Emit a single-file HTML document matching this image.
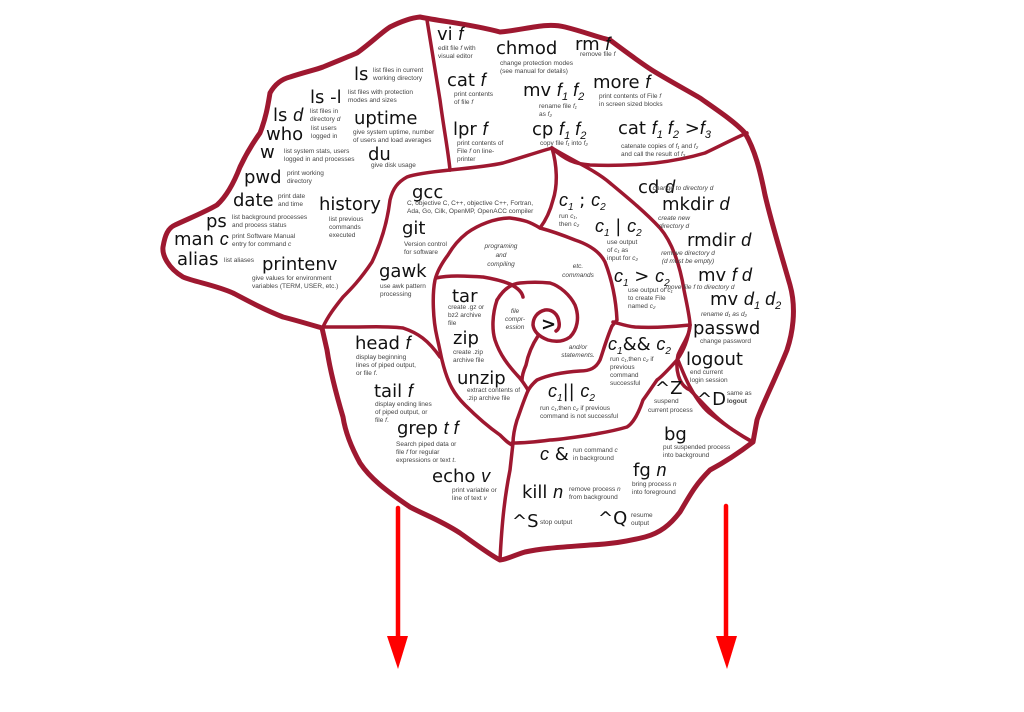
<!DOCTYPE html>
<html><head><meta charset="utf-8"><style>
html,body{margin:0;padding:0;background:#fff;width:1024px;height:712px;overflow:hidden}
svg{display:block}
.c{font-family:"DejaVu Sans","Liberation Sans",sans-serif;fill:#111;font-size:18px}
.c tspan.i{font-style:italic;font-family:"Liberation Sans",sans-serif}
.d{font-family:"Liberation Sans",sans-serif;fill:#444;font-size:6.5px}
.m{font-family:"Liberation Sans",sans-serif;fill:#444;font-size:6.5px;font-style:italic;text-anchor:middle}
.l{fill:none;stroke:#9e1830;stroke-width:3.5;stroke-linejoin:round;stroke-linecap:round}
.o{stroke-width:5}
</style></head><body>
<svg width="1024" height="712" viewBox="0 0 1024 712" xmlns="http://www.w3.org/2000/svg">
<path class="l o" d="M420,17 C445,22 470,24 500,32 C525,30 545,22 565,27 C585,32 600,38 610,40 C630,55 645,66 655,72 C675,84 690,92 700,98 C720,112 735,122 745,133 C755,150 760,170 765,195 C772,225 780,250 790,285 C797,310 792,335 787,350 C775,380 762,405 757,420 L753,442 C740,452 725,462 710,470 C695,485 690,495 680,512 C670,525 660,533 645,537 C625,542 610,544 590,545 C565,547 543,548 525,552 C512,556 505,560 500,560 C490,555 470,540 460,533 C440,520 425,515 410,507 C385,490 370,478 360,463 C350,445 345,430 343,417 C335,390 330,370 327,350 L322,328 C305,323 295,320 283,317 C265,310 250,302 233,293 C215,285 195,282 183,277 C168,268 162,255 163,247 C165,235 168,228 175,225 C190,218 205,212 217,205 C228,195 235,180 240,167 C248,150 255,140 260,133 C266,118 268,105 270,93 C275,84 282,79 290,77 C305,72 315,70 323,67 C340,60 350,56 357,53 C372,42 382,32 390,27 C400,22 410,18 420,17 Z"/>
<path class="l" d="M427,20 C432,50 436,75 440,100 C444,130 448,150 450,170"/>
<path class="l" d="M450,170 C470,168 490,166 503,163 C520,158 538,152 552,148"/>
<path class="l" d="M552,148 C565,160 575,164 590,165 C615,166 635,165 655,163 C680,160 695,156 705,153 C720,146 735,138 747,133"/>
<path class="l" d="M450,170 C430,172 415,174 407,177 C398,182 393,188 390,200 C387,225 380,245 372,262 C360,280 350,290 343,297 C335,307 328,316 323,327"/>
<path class="l" d="M323,327 C335,327 345,327 353,327 C370,327 390,326 403,328 C418,333 428,340 440,357"/>
<path class="l" d="M552,148 C557,165 558,185 553,200 C550,212 546,220 540,228 C530,222 525,220 510,218 C495,218 478,225 467,233 C458,240 452,248 448,255 C442,263 437,272 435,280 C432,295 433,320 437,337 C440,350 441,356 442,360 C448,385 455,395 465,405 C478,418 490,428 500,435 C505,440 508,443 512,445"/>
<path class="l" d="M540,228 C555,232 565,236 575,240 C590,245 600,252 605,262 C612,280 616,300 617,320 L612,326 C606,340 602,355 600,360 C596,368 590,371 580,371 C565,372 548,375 537,380 C530,386 528,390 527,393 C522,405 518,418 517,420 C514,430 513,436 513,443 L510,470 C505,495 502,520 500,560"/>
<path class="l" d="M552,148 C575,162 595,170 610,183 C628,198 645,212 660,228 C672,242 680,265 684,290 C687,305 690,318 690,325 C690,335 682,345 678,355 C675,368 678,385 690,390 C705,405 715,418 733,430 C742,436 748,440 753,442"/>
<path class="l" d="M690,325 C670,327 650,328 635,327 C625,326 618,323 613,322"/>
<path class="l" d="M690,325 C688,340 684,350 677,360 C668,370 660,378 657,380 C650,390 646,396 643,400 C638,415 632,424 627,427 C610,432 600,433 590,435 C570,438 555,440 550,440 C535,442 520,443 512,443"/>
<path class="l" d="M436,278 C450,275 465,276 483,277 C495,279 505,282 510,284 C518,288 522,292 523,297"/>
<path class="l" d="M497,300 C503,290 510,284 520,283 C530,282 540,282 550,283 C560,286 570,295 575,305 C580,318 577,330 570,337 C563,342 555,342 548,340 C540,337 534,332 533,325 C533,318 537,312 545,310 C552,309 558,314 559,322 C560,327 558,330 556,331"/>
<path class="l" d="M497,300 C492,315 492,330 495,340 C500,355 508,365 517,375 C522,380 525,385 528,390"/>
<path class="l" d="M538,336 C532,345 528,355 526,365 C523,372 522,376 522,380"/>
<path class="l" d="M678,360 C682,370 686,380 690,387 C697,400 705,410 712,415 C725,425 740,435 753,442"/>
<line x1="398" y1="508" x2="398" y2="640" stroke="#f00" stroke-width="4.5" stroke-linecap="round"/>
<polygon points="387,636 408,636 398,669" fill="#f00"/>
<line x1="726" y1="506" x2="726" y2="640" stroke="#f00" stroke-width="4.5" stroke-linecap="round"/>
<polygon points="716,636 737,636 727,669" fill="#f00"/>

<text class="c" x="354" y="80" font-size="22">ls</text>
<text class="d" x="373" y="72">list files in current</text><text class="d" x="373" y="80">working directory</text>
<text class="c" x="310" y="103" font-size="22">ls -l</text>
<text class="d" x="348" y="94">list files with protection</text><text class="d" x="348" y="102">modes and sizes</text>
<text class="c" x="273" y="121" font-size="20">ls <tspan class="i">d</tspan></text>
<text class="d" x="310" y="113">list files in</text><text class="d" x="310" y="121">directory <tspan font-style="italic">d</tspan></text>
<text class="c" x="354" y="124" font-size="22">uptime</text>
<text class="d" x="353" y="134">give system uptime, number</text><text class="d" x="353" y="142">of users and load averages</text>
<text class="c" x="266" y="140" font-size="20">who</text>
<text class="d" x="311" y="130">list users</text><text class="d" x="311" y="138">logged in</text>
<text class="c" x="260" y="158" font-size="20">w</text>
<text class="d" x="284" y="153">list system stats, users</text><text class="d" x="284" y="161">logged in and processes</text>
<text class="c" x="368" y="160" font-size="20">du</text>
<text class="d" x="371" y="167">give disk usage</text>
<text class="c" x="244" y="183" font-size="21">pwd</text>
<text class="d" x="287" y="175">print working</text><text class="d" x="287" y="183">directory</text>
<text class="c" x="233" y="206" font-size="21">date</text>
<text class="d" x="278" y="198">print date</text><text class="d" x="278" y="206">and time</text>
<text class="c" x="319" y="210" font-size="21">history</text>
<text class="d" x="329" y="221">list previous</text><text class="d" x="329" y="229">commands</text><text class="d" x="329" y="237">executed</text>
<text class="c" x="206" y="227" font-size="20">ps</text>
<text class="d" x="232" y="219">list background processes</text><text class="d" x="232" y="227">and process status</text>
<text class="c" x="174" y="245" font-size="20">man <tspan class="i">c</tspan></text>
<text class="d" x="232" y="238">print Software Manual</text><text class="d" x="232" y="246">entry for command <tspan font-style="italic">c</tspan></text>
<text class="c" x="177" y="265" font-size="20">alias</text>
<text class="d" x="224" y="262">list aliases</text>
<text class="c" x="262" y="270" font-size="20">printenv</text>
<text class="d" x="252" y="280">give values for environment</text><text class="d" x="252" y="288">variables (TERM, USER, etc.)</text>

<text class="c" x="412" y="198" font-size="20">gcc</text>
<text class="d" x="407" y="205">C, objective C, C++, objective C++, Fortran,</text><text class="d" x="407" y="213">Ada, Go, Cilk, OpenMP, OpenACC compiler</text>
<text class="c" x="402" y="234" font-size="20">git</text>
<text class="d" x="404" y="246">Version control</text><text class="d" x="404" y="254">for software</text>
<text class="c" x="379" y="277" font-size="20">gawk</text>
<text class="d" x="380" y="288">use awk pattern</text><text class="d" x="380" y="296">processing</text>

<text class="c" x="437" y="40" font-size="20">vi <tspan class="i">f</tspan></text>
<text class="d" x="438" y="50">edit file <tspan font-style="italic">f</tspan> with</text><text class="d" x="438" y="58">visual editor</text>
<text class="c" x="496" y="54" font-size="20">chmod</text>
<text class="d" x="500" y="65">change protection modes</text><text class="d" x="500" y="73">(see manual for details)</text>
<text class="c" x="575" y="50" font-size="20">rm <tspan class="i">f</tspan></text>
<text class="d" x="580" y="56">remove file <tspan font-style="italic">f</tspan></text>
<text class="c" x="447" y="86" font-size="20">cat <tspan class="i">f</tspan></text>
<text class="d" x="454" y="96">print contents</text><text class="d" x="454" y="104">of file <tspan font-style="italic">f</tspan></text>
<text class="c" x="523" y="96" font-size="20">mv <tspan class="i">f<tspan font-size="11" dy="4">1</tspan><tspan dy="-4"> f</tspan><tspan font-size="11" dy="4">2</tspan></tspan></text>
<text class="d" x="539" y="108">rename file <tspan font-style="italic">f₁</tspan></text><text class="d" x="539" y="116">as <tspan font-style="italic">f₂</tspan></text>
<text class="c" x="593" y="88" font-size="20">more <tspan class="i">f</tspan></text>
<text class="d" x="599" y="98">print contents of File <tspan font-style="italic">f</tspan></text><text class="d" x="599" y="106">in screen sized blocks</text>
<text class="c" x="453" y="135" font-size="20">lpr <tspan class="i">f</tspan></text>
<text class="d" x="457" y="145">print contents of</text><text class="d" x="457" y="153">File <tspan font-style="italic">f</tspan> on line-</text><text class="d" x="457" y="161">printer</text>
<text class="c" x="532" y="135" font-size="20">cp <tspan class="i">f<tspan font-size="11" dy="4">1</tspan><tspan dy="-4"> f</tspan><tspan font-size="11" dy="4">2</tspan></tspan></text>
<text class="d" x="540" y="145">copy file <tspan font-style="italic">f₁</tspan> into <tspan font-style="italic">f₂</tspan></text>
<text class="c" x="618" y="134" font-size="20">cat <tspan class="i">f<tspan font-size="11" dy="4">1</tspan><tspan dy="-4"> f</tspan><tspan font-size="11" dy="4">2</tspan></tspan><tspan dy="-4"> &gt;</tspan><tspan class="i">f<tspan font-size="11" dy="4">3</tspan></tspan></text>
<text class="d" x="621" y="148">catenate copies of <tspan font-style="italic">f₁</tspan> and <tspan font-style="italic">f₂</tspan></text><text class="d" x="621" y="156">and call the result of <tspan font-style="italic">f₃</tspan></text>

<text class="c" x="559" y="206" font-size="19"><tspan class="i">c<tspan font-size="10" dy="4">1</tspan></tspan><tspan dy="-4"> ; </tspan><tspan class="i">c<tspan font-size="10" dy="4">2</tspan></tspan></text>
<text class="d" x="559" y="218">run <tspan font-style="italic">c₁</tspan>,</text><text class="d" x="559" y="226">then <tspan font-style="italic">c₂</tspan></text>
<text class="c" x="595" y="232" font-size="19"><tspan class="i">c<tspan font-size="10" dy="4">1</tspan></tspan><tspan dy="-4"> | </tspan><tspan class="i">c<tspan font-size="10" dy="4">2</tspan></tspan></text>
<text class="d" x="607" y="244">use output</text><text class="d" x="607" y="252">of <tspan font-style="italic">c₁</tspan> as</text><text class="d" x="607" y="260">input for <tspan font-style="italic">c₂</tspan></text>
<text class="c" x="614" y="282" font-size="19"><tspan class="i">c<tspan font-size="10" dy="4">1</tspan></tspan><tspan dy="-4"> &gt; </tspan><tspan class="i">c<tspan font-size="10" dy="4">2</tspan></tspan></text>
<text class="d" x="628" y="292">use output of <tspan font-style="italic">c₁</tspan></text><text class="d" x="628" y="300">to create File</text><text class="d" x="628" y="308">named <tspan font-style="italic">c₂</tspan></text>
<text class="m" x="501" y="248">programing</text><text class="m" x="501" y="257">and</text><text class="m" x="501" y="266">compiling</text>
<text class="m" x="578" y="268">etc.</text><text class="m" x="578" y="277">commands</text>

<text class="c" x="638" y="193" font-size="19">cd <tspan class="i">d</tspan></text>
<text class="m" x="683" y="190" text-anchor="start">change to directory d</text>
<text class="c" x="662" y="210" font-size="19">mkdir <tspan class="i">d</tspan></text>
<text class="m" x="674" y="220" text-anchor="start">create new</text><text class="m" x="674" y="228" text-anchor="start">directory d</text>
<text class="c" x="687" y="246" font-size="19">rmdir <tspan class="i">d</tspan></text>
<text class="m" x="688" y="255" text-anchor="start">remove directory d</text><text class="m" x="688" y="263" text-anchor="start">(d must be empty)</text>
<text class="c" x="698" y="281" font-size="19">mv <tspan class="i">f d</tspan></text>
<text class="m" x="700" y="289" text-anchor="start">move file f to directory d</text>
<text class="c" x="710" y="305" font-size="19">mv <tspan class="i">d<tspan font-size="11" dy="4">1</tspan><tspan dy="-4"> d</tspan><tspan font-size="11" dy="4">2</tspan></tspan></text>
<text class="m" x="724" y="316" text-anchor="start">rename d₁ as d₂</text>
<text class="c" x="693" y="334" font-size="21">passwd</text>
<text class="d" x="700" y="343">change password</text>
<text class="c" x="686" y="365" font-size="21">logout</text>
<text class="d" x="690" y="374">end current</text><text class="d" x="690" y="382">login session</text>
<text class="c" x="697" y="405" font-size="20">^D</text>
<text class="d" x="727" y="395">same as</text><text class="d" x="727" y="403" font-weight="bold">logout</text>

<text class="m" x="515" y="313">file</text><text class="m" x="515" y="321">compr-</text><text class="m" x="515" y="329">ession</text>
<text class="c" x="541" y="330" font-size="16" font-weight="bold">&gt;</text>
<text class="m" x="578" y="349">and/or</text><text class="m" x="578" y="357">statements.</text>
<text class="c" x="452" y="302" font-size="20">tar</text>
<text class="d" x="448" y="309">create .gz or</text><text class="d" x="448" y="317">bz2 archive</text><text class="d" x="448" y="325">file</text>
<text class="c" x="453" y="344" font-size="20">zip</text>
<text class="d" x="453" y="354">create .zip</text><text class="d" x="453" y="362">archive file</text>
<text class="c" x="457" y="384" font-size="20">unzip</text>
<text class="d" x="467" y="392">extract contents of</text><text class="d" x="467" y="400">.zip archive file</text>
<text class="c" x="608" y="350" font-size="19"><tspan class="i">c<tspan font-size="10" dy="4">1</tspan></tspan><tspan dy="-4">&amp;&amp; </tspan><tspan class="i">c<tspan font-size="10" dy="4">2</tspan></tspan></text>
<text class="d" x="610" y="361">run <tspan font-style="italic">c₁</tspan>,then <tspan font-style="italic">c₂</tspan> if</text><text class="d" x="610" y="369">previous</text><text class="d" x="610" y="377">command</text><text class="d" x="610" y="385">successful</text>
<text class="c" x="548" y="397" font-size="19"><tspan class="i">c<tspan font-size="10" dy="4">1</tspan></tspan><tspan dy="-4">|| </tspan><tspan class="i">c<tspan font-size="10" dy="4">2</tspan></tspan></text>
<text class="d" x="540" y="410">run <tspan font-style="italic">c₁</tspan>,then <tspan font-style="italic">c₂</tspan> if previous</text><text class="d" x="540" y="418">command is not successful</text>
<text class="c" x="655" y="394" font-size="20">^Z</text>
<text class="d" x="654" y="403">suspend</text><text class="d" x="648" y="412">current process</text>

<text class="c" x="355" y="349" font-size="20">head <tspan class="i">f</tspan></text>
<text class="d" x="356" y="359">display beginning</text><text class="d" x="356" y="367">lines of piped output,</text><text class="d" x="356" y="375">or file <tspan font-style="italic">f</tspan>.</text>
<text class="c" x="374" y="397" font-size="20">tail <tspan class="i">f</tspan></text>
<text class="d" x="375" y="406">display ending lines</text><text class="d" x="375" y="414">of piped output, or</text><text class="d" x="375" y="422">file <tspan font-style="italic">f</tspan>.</text>
<text class="c" x="397" y="434" font-size="20">grep <tspan class="i">t f</tspan></text>
<text class="d" x="396" y="446">Search piped data or</text><text class="d" x="396" y="454">file <tspan font-style="italic">f</tspan> for regular</text><text class="d" x="396" y="462">expressions or text <tspan font-style="italic">t</tspan>.</text>
<text class="c" x="432" y="482" font-size="20">echo <tspan class="i">v</tspan></text>
<text class="d" x="452" y="492">print variable or</text><text class="d" x="452" y="500">line of text <tspan font-style="italic">v</tspan></text>

<text class="c" x="540" y="460" font-size="19"><tspan class="i">c</tspan> &amp;</text>
<text class="d" x="573" y="452">run command <tspan font-style="italic">c</tspan></text><text class="d" x="573" y="460">in background</text>
<text class="c" x="664" y="440" font-size="21">bg</text>
<text class="d" x="663" y="449">put suspended process</text><text class="d" x="663" y="457">into background</text>
<text class="c" x="633" y="476" font-size="20">fg <tspan class="i">n</tspan></text>
<text class="d" x="632" y="486">bring process <tspan font-style="italic">n</tspan></text><text class="d" x="632" y="494">into foreground</text>
<text class="c" x="522" y="498" font-size="20">kill <tspan class="i">n</tspan></text>
<text class="d" x="569" y="491">remove process <tspan font-style="italic">n</tspan></text><text class="d" x="569" y="499">from background</text>
<text class="c" x="512" y="527" font-size="20">^S</text>
<text class="d" x="540" y="524">stop output</text>
<text class="c" x="598" y="524" font-size="20">^Q</text>
<text class="d" x="631" y="517">resume</text><text class="d" x="631" y="525">output</text>
</svg>
</body></html>
